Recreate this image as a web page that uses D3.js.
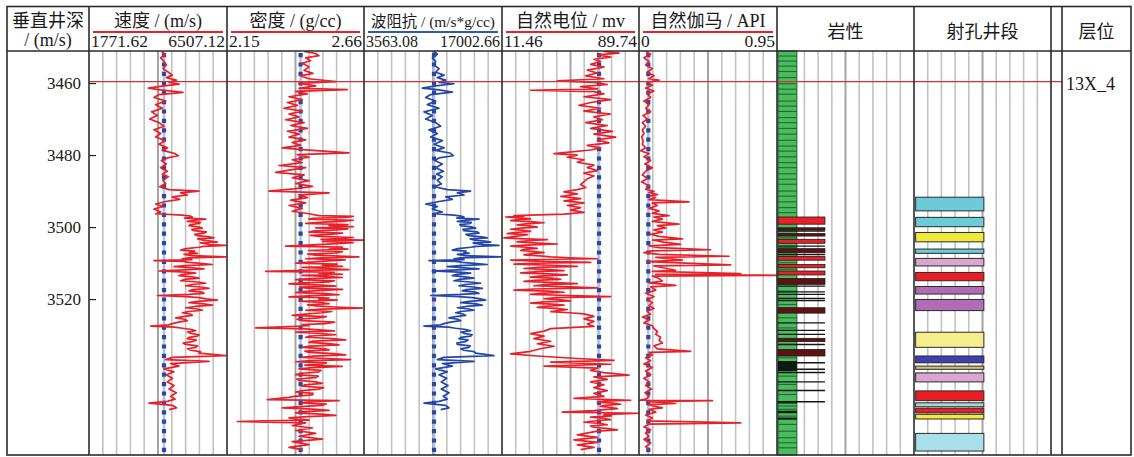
<!DOCTYPE html>
<html><head><meta charset="utf-8">
<script src="https://cdn.jsdelivr.net/npm/d3@7/dist/d3.min.js"></script>
<style>body{margin:0;background:#fff}svg{display:block}</style>
</head><body><svg id="c" width="1134" height="457"></svg>
<script>
// ---------------- data ----------------
const depthDomain = [3451.1, 3563.3];
const depthTicks = [3460, 3480, 3500, 3520];
const markerDepth = 3459.6;
const markerLabel = "13X_4";

const trackTitles = ["速度 / (m/s)", "密度 / (g/cc)", "波阻抗 / (m/s*g/cc)", "自然电位 / mv", "自然伽马 / API"];
const trackMin = [1771.62, 2.15, 3563.08, 11.46, 0];
const trackMax = [6507.12, 2.66, 17002.66, 89.74, 0.95];
const trackMinLabel = ["1771.62", "2.15", "3563.08", "11.46", "0"];
const trackMaxLabel = ["6507.12", "2.66", "17002.66", "89.74", "0.95"];
const baselineValue = [4345, 2.424, 10380, 66.9, 0.064];
const otherTitles = ["岩性", "射孔井段", "层位"];
const depthTitle = ["垂直井深", "/ (m/s)"];

const velocity = [[3451.2,4265],[3452,4380],[3453,4231],[3454,4346],[3455,4426],[3456,4311],[3457,4494],[3457.8,4632],[3458.5,4426],[3459.2,4769],[3459.8,4517],[3460.3,4860],[3460.8,4346],[3461.4,3808],[3461.9,4231],[3462.6,4998],[3463.2,4174],[3464,4002],[3465,4403],[3466,4060],[3467,4288],[3468,3922],[3469,4117],[3470,3854],[3471,4174],[3472,4346],[3473,4002],[3474,4231],[3475,4060],[3476,4380],[3477,4174],[3478,4460],[3478.7,4288],[3479.5,4689],[3480.2,4838],[3480.8,4460],[3481.5,4254],[3482.5,4426],[3483.5,4231],[3484.5,4460],[3485.3,4288],[3486,4494],[3487,4311],[3488,4403],[3488.8,4197],[3489.6,4517],[3490,5547],[3490.5,4918],[3491.1,5146],[3491.6,4632],[3492.3,4883],[3492.9,4403],[3493.6,4060],[3494.3,4311],[3495,4002],[3495.8,4231],[3496.3,4060],[3496.7,4975],[3496.95,5250],[3497.2,5318],[3497.5,5050],[3497.8,5776],[3498.1,5400],[3498.4,5146],[3498.7,5600],[3499,5547],[3499.3,5250],[3499.6,5204],[3499.95,5500],[3500.3,5661],[3500.65,5300],[3501,5375],[3501.35,5800],[3501.7,5718],[3502.05,5400],[3502.4,5489],[3502.7,5900],[3503,6061],[3503.3,5500],[3503.6,5661],[3503.9,5950],[3504.2,6176],[3504.4,5600],[3504.6,5776],[3504.85,5900],[3505.1,6462],[3505.35,5700],[3505.6,5547],[3506,5100],[3506.4,4918],[3506.7,5400],[3507,5204],[3507.3,5500],[3507.6,5032],[3507.95,5300],[3508.3,6462],[3508.55,5200],[3508.8,4975],[3509.05,5300],[3509.3,4002],[3509.55,5000],[3509.8,5204],[3510.1,5600],[3510.4,6004],[3510.7,5100],[3511,4689],[3511.3,5300],[3511.6,5718],[3511.9,5000],[3512.2,4174],[3512.5,5100],[3512.8,5432],[3513.15,5000],[3513.5,4860],[3513.85,5300],[3514.2,5547],[3514.55,5050],[3514.9,4918],[3515.25,5500],[3515.6,5776],[3515.95,5300],[3516.3,5089],[3516.65,5600],[3517,5890],[3517.35,5350],[3517.7,5204],[3518.05,5650],[3518.4,5718],[3518.7,5200],[3519,4117],[3519.3,5100],[3519.6,5547],[3519.95,5800],[3520.3,6176],[3520.65,5500],[3521,5204],[3521.35,5700],[3521.7,6004],[3522.05,5400],[3522.4,5089],[3522.75,5500],[3523.1,5661],[3523.45,5200],[3523.8,4975],[3524.15,5250],[3524.5,5318],[3524.85,5000],[3525.2,4746],[3525.6,5050],[3526,5146],[3526.4,4850],[3526.8,4632],[3527.15,4500],[3527.5,3888],[3527.8,4700],[3528.1,4975],[3528.45,5300],[3528.8,5432],[3529.15,5150],[3529.5,5261],[3529.9,5550],[3530.3,5489],[3530.65,5200],[3531,5146],[3531.4,5450],[3531.8,5318],[3532.2,5000],[3532.6,5089],[3533,5500],[3533.4,5432],[3533.8,5150],[3534.2,5261],[3534.6,5600],[3535,5547],[3535.7,6462],[3536.2,4632],[3536.8,4403],[3537.3,5890],[3537.9,4574],[3538.6,4860],[3539.4,4346],[3540.2,4689],[3541,4426],[3542,4632],[3543,4460],[3544,4689],[3545,4517],[3546,4769],[3547,4574],[3547.8,4723],[3548.4,4460],[3548.9,3831],[3549.5,4632],[3550.2,4769],[3550.7,4517]];

const density = [[3451.2,2.437],[3451.8,2.480],[3452.4,2.492],[3453,2.443],[3453.8,2.461],[3454.5,2.430],[3455.5,2.455],[3456.5,2.437],[3457.3,2.470],[3458,2.424],[3458.8,2.455],[3459.6,2.555],[3460.1,2.418],[3460.8,2.480],[3461.5,2.418],[3461.8,2.598],[3462.3,2.406],[3463,2.449],[3463.8,2.381],[3464.6,2.430],[3465.4,2.375],[3466.2,2.412],[3467,2.362],[3467.8,2.430],[3468.6,2.381],[3469.4,2.418],[3470.2,2.368],[3471,2.437],[3471.8,2.387],[3472.6,2.449],[3473.4,2.375],[3474.2,2.418],[3475,2.381],[3475.8,2.443],[3476.5,2.393],[3477.3,2.424],[3478,2.356],[3478.5,2.430],[3479.4,2.604],[3479.9,2.412],[3480.6,2.455],[3481.3,2.393],[3482.1,2.430],[3482.9,2.344],[3483.5,2.443],[3484.2,2.381],[3484.8,2.331],[3485.5,2.437],[3486.3,2.393],[3487.1,2.455],[3487.9,2.406],[3488.7,2.468],[3489.4,2.400],[3490,2.306],[3490.5,2.530],[3491.1,2.418],[3491.8,2.449],[3492.5,2.387],[3493.3,2.443],[3494,2.381],[3494.8,2.430],[3495.6,2.393],[3496.3,2.455],[3496.8,2.492],[3497.05,2.62],[3497.3,2.592],[3497.55,2.47],[3497.8,2.455],[3498.1,2.62],[3498.4,2.579],[3498.7,2.49],[3499,2.443],[3499.3,2.60],[3499.6,2.530],[3499.9,2.62],[3500.2,2.480],[3500.5,2.60],[3500.8,2.561],[3501.1,2.47],[3501.4,2.455],[3501.7,2.58],[3502,2.542],[3502.3,2.46],[3502.6,2.492],[3502.9,2.62],[3503.2,2.579],[3503.4,2.50],[3503.6,2.660],[3503.8,2.52],[3504,2.505],[3504.3,2.62],[3504.6,2.561],[3504.95,2.47],[3505.3,2.368],[3505.55,2.58],[3505.8,2.530],[3506.15,2.60],[3506.5,2.455],[3506.85,2.58],[3507.2,2.555],[3507.5,2.45],[3507.8,2.480],[3508.05,2.57],[3508.3,2.641],[3508.55,2.50],[3508.8,2.443],[3509.1,2.59],[3509.4,2.530],[3509.7,2.46],[3510,2.406],[3510.3,2.56],[3510.6,2.505],[3510.9,2.58],[3511.2,2.430],[3511.5,2.53],[3511.8,2.604],[3512.05,2.45],[3512.3,2.294],[3512.55,2.55],[3512.8,2.492],[3513.1,2.58],[3513.4,2.430],[3513.7,2.52],[3514,2.579],[3514.3,2.46],[3514.6,2.406],[3514.9,2.55],[3515.2,2.530],[3515.5,2.44],[3515.8,2.381],[3516.1,2.50],[3516.4,2.555],[3516.7,2.42],[3517,2.455],[3517.3,2.58],[3517.6,2.505],[3517.9,2.43],[3518.2,2.406],[3518.5,2.52],[3518.8,2.567],[3519.1,2.45],[3519.4,2.381],[3519.7,2.53],[3520,2.492],[3520.3,2.56],[3520.6,2.418],[3520.95,2.50],[3521.3,2.530],[3521.6,2.45],[3521.9,2.480],[3522.2,2.55],[3522.5,2.654],[3522.8,2.50],[3523.1,2.443],[3523.45,2.54],[3523.8,2.505],[3524.15,2.44],[3524.5,2.393],[3524.85,2.52],[3525.2,2.492],[3525.6,2.41],[3526,2.430],[3526.4,2.55],[3526.8,2.517],[3527.1,2.43],[3527.4,2.455],[3528,2.257],[3528.25,2.44],[3528.5,2.480],[3528.85,2.55],[3529.2,2.406],[3529.55,2.50],[3529.9,2.555],[3530.25,2.46],[3530.6,2.443],[3530.95,2.54],[3531.3,2.592],[3531.65,2.47],[3532,2.455],[3532.35,2.53],[3532.7,2.567],[3533.05,2.46],[3533.4,2.430],[3533.75,2.51],[3534.1,2.530],[3534.45,2.44],[3534.8,2.455],[3535.15,2.55],[3535.5,2.592],[3535.85,2.47],[3536.2,2.430],[3536.5,2.52],[3536.8,2.610],[3537.1,2.46],[3537.4,2.406],[3537.7,2.52],[3538,2.505],[3538.35,2.44],[3538.7,2.579],[3539.05,2.47],[3539.4,2.418],[3539.8,2.50],[3540.2,2.492],[3540.6,2.43],[3541,2.406],[3541.4,2.49],[3541.8,2.480],[3542.2,2.41],[3542.6,2.418],[3543,2.48],[3543.4,2.505],[3543.8,2.44],[3544.2,2.430],[3544.6,2.51],[3545,2.492],[3545.4,2.43],[3545.8,2.406],[3546.2,2.47],[3546.6,2.468],[3547,2.40],[3547.3,2.381],[3547.9,2.300],[3548.2,2.567],[3548.5,2.46],[3548.8,2.430],[3549.15,2.52],[3549.5,2.505],[3549.85,2.42],[3550.2,2.356],[3550.55,2.47],[3550.9,2.530],[3551.25,2.44],[3551.6,2.406],[3551.95,2.50],[3552.3,2.555],[3552.65,2.45],[3553,2.381],[3553.6,2.455],[3554,2.188],[3554.4,2.443],[3555.1,2.393],[3555.8,2.468],[3556.5,2.406],[3557.3,2.480],[3558.1,2.418],[3558.9,2.505],[3559.6,2.393],[3560.4,2.455],[3561.2,2.381],[3561.8,2.430]];

const impedance = [[3451.2,10380],[3452,10704],[3453,10218],[3454,10542],[3455,10380],[3456,10867],[3457,10542],[3457.8,11354],[3458.5,10704],[3459.2,11516],[3459.8,10867],[3460.2,12327],[3460.8,10542],[3461.4,9244],[3461.9,10867],[3462.5,12165],[3463.2,10055],[3464,9568],[3465,10542],[3466,9731],[3467,10867],[3468,9406],[3469,10218],[3470,9568],[3471,10542],[3472,11029],[3473,9893],[3474,10704],[3475,10055],[3476,11191],[3477,10380],[3478,11354],[3478.7,10542],[3479.5,12003],[3480.2,12262],[3480.8,10867],[3481.5,10445],[3482.5,11191],[3483.5,10542],[3484.5,11289],[3485.3,10640],[3486,11191],[3487,10704],[3488,11094],[3488.8,10445],[3489.6,11678],[3490,13950],[3490.5,12652],[3491.1,13301],[3491.6,11516],[3492.3,12165],[3492.9,10867],[3493.6,9568],[3494.3,10704],[3495,10218],[3495.8,11191],[3496.3,10380],[3496.7,12327],[3496.95,13000],[3497.2,13301],[3497.5,12600],[3497.8,14762],[3498.1,13500],[3498.4,12652],[3498.7,14000],[3499,13950],[3499.3,12900],[3499.6,12977],[3499.95,14000],[3500.3,14437],[3500.65,13200],[3501,13301],[3501.35,14600],[3501.7,14762],[3502.05,13500],[3502.4,13788],[3502.7,15000],[3503,15573],[3503.3,13900],[3503.6,14275],[3503.9,15300],[3504.2,15898],[3504.4,14200],[3504.6,14600],[3504.85,15200],[3505.1,16710],[3505.35,14500],[3505.6,13950],[3506,12700],[3506.4,12165],[3506.7,13500],[3507,13301],[3507.3,13800],[3507.6,12652],[3507.95,13400],[3508.3,16872],[3508.55,13000],[3508.8,12327],[3509.05,13300],[3509.3,9893],[3509.55,12500],[3509.8,13139],[3510.1,14300],[3510.4,15573],[3510.7,12900],[3511,11678],[3511.3,13300],[3511.6,14762],[3511.9,12600],[3512.2,10218],[3512.5,12800],[3512.8,13950],[3513.15,12600],[3513.5,12165],[3513.85,13400],[3514.2,14275],[3514.55,12800],[3514.9,12327],[3515.25,13900],[3515.6,14924],[3515.95,13400],[3516.3,12814],[3516.65,14200],[3517,15087],[3517.35,13500],[3517.7,13139],[3518.05,14400],[3518.4,14762],[3518.7,13000],[3519,10055],[3519.3,12800],[3519.6,14112],[3519.95,14900],[3520.3,15411],[3520.65,13800],[3521,12977],[3521.35,14500],[3521.7,15087],[3522.05,13500],[3522.4,12652],[3522.75,13800],[3523.1,14275],[3523.45,13000],[3523.8,12490],[3524.15,13200],[3524.5,13463],[3524.85,12500],[3525.2,11841],[3525.6,12700],[3526,12977],[3526.4,12000],[3526.8,11354],[3527.15,11000],[3527.5,9406],[3527.8,11800],[3528.1,12490],[3528.45,13500],[3528.8,13950],[3529.15,13000],[3529.5,13301],[3529.9,14100],[3530.3,13950],[3530.65,13000],[3531,12814],[3531.4,13700],[3531.8,13463],[3532.2,12600],[3532.6,12652],[3533,13900],[3533.4,13788],[3533.8,13000],[3534.2,13301],[3534.6,14300],[3535,14437],[3535.7,16223],[3536.2,11354],[3536.8,10704],[3537.3,14275],[3537.9,11191],[3538.6,12165],[3539.4,10542],[3540.2,11678],[3541,10867],[3542,11613],[3543,11094],[3544,11743],[3545,11094],[3546,11841],[3547,11289],[3547.8,11678],[3548.4,10867],[3548.9,9406],[3549.5,11516],[3550.2,11841],[3550.7,11029]];

const sp = [[3451.2,69.7],[3451.7,78.3],[3452.2,66.0],[3452.8,73.5],[3453.4,64.0],[3454,67.8],[3454.8,62.1],[3455.6,69.7],[3456.4,60.2],[3457.2,66.0],[3458,59.3],[3458.8,69.7],[3459.4,43.1],[3459.8,64.0],[3460.4,71.6],[3461,56.4],[3461.6,66.0],[3462,27.8],[3462.4,64.0],[3463,69.7],[3463.8,58.3],[3464.6,73.5],[3465.4,62.1],[3466.2,55.5],[3467,67.8],[3467.8,58.3],[3468.6,73.5],[3469.4,64.0],[3470.2,68.8],[3471,59.3],[3471.8,71.6],[3472.6,62.1],[3473.4,74.5],[3474.2,64.0],[3475,76.4],[3475.8,66.0],[3476.6,72.6],[3477.3,60.2],[3478,67.8],[3478.6,62.1],[3479.3,46.9],[3479.6,41.2],[3480,54.5],[3480.6,48.8],[3481.3,58.3],[3482,54.5],[3482.8,64.0],[3483.5,60.2],[3484.3,66.0],[3485,58.3],[3485.8,64.0],[3486.6,60.2],[3487.4,58.3],[3488.2,56.4],[3489,59.3],[3489.6,54.5],[3490.2,46.9],[3490.8,54.5],[3491.5,45.0],[3492.1,56.4],[3492.7,46.9],[3493.3,58.3],[3494,48.8],[3494.6,56.4],[3495.3,50.7],[3495.9,58.3],[3496.4,46.9],[3496.8,18.3],[3497,24],[3497.2,13.6],[3497.45,22],[3497.7,27.8],[3497.95,20],[3498.2,16.4],[3498.5,28],[3498.8,35.5],[3499.1,25],[3499.4,20.2],[3499.7,28],[3500,31.6],[3500.3,22],[3500.6,16.4],[3500.9,24],[3501.2,27.8],[3501.5,19],[3501.8,14.5],[3502.1,26],[3502.4,22.1],[3502.7,17],[3503,12.6],[3503.25,25],[3503.5,37.4],[3503.8,26],[3504.1,20.2],[3504.4,30],[3504.7,43.1],[3505,25],[3505.3,16.4],[3505.6,25],[3505.9,31.6],[3506.2,24],[3506.5,22.1],[3506.8,30],[3507.1,35.5],[3507.4,28],[3507.7,24.0],[3508,33],[3508.3,39.3],[3508.55,50],[3508.8,66.0],[3509,30],[3509.2,16.4],[3509.5,35],[3509.8,62.1],[3510.05,30],[3510.3,18.3],[3510.6,40],[3510.9,54.5],[3511.2,32],[3511.5,24.0],[3511.8,38],[3512.1,46.9],[3512.4,30],[3512.7,22.1],[3513,38],[3513.3,48.8],[3513.6,33],[3513.9,27.8],[3514.2,40],[3514.5,45.0],[3514.8,30],[3515.1,24.0],[3515.4,42],[3515.7,54.5],[3516,36],[3516.3,29.7],[3516.6,50],[3516.9,66.0],[3517.2,30],[3517.5,18.3],[3517.8,38],[3518.1,46.9],[3518.4,33],[3518.7,27.8],[3519,50],[3519.3,73.5],[3519.6,42],[3519.9,35.5],[3520.2,45],[3520.5,50.7],[3520.8,35],[3521.1,27.8],[3521.4,40],[3521.7,46.9],[3522,36],[3522.3,31.6],[3522.6,42],[3522.9,48.8],[3523.2,44],[3523.5,39.3],[3523.8,50],[3524.1,58.3],[3524.8,64.0],[3525.5,58.3],[3526.2,64.0],[3526.9,60.2],[3527.6,64.0],[3528.2,39.3],[3528.9,35.5],[3529.6,27.8],[3530.3,35.5],[3531,29.7],[3531.7,39.3],[3532.4,31.6],[3533.1,41.2],[3533.8,33.5],[3534.5,27.8],[3535.2,16.4],[3535.8,31.6],[3536.5,54.5],[3537,75.5],[3537.5,39.3],[3538.1,73.5],[3538.6,35.5],[3539.2,66.0],[3539.8,62.1],[3540.4,69.7],[3541.1,84.0],[3541.6,64.0],[3542.3,71.6],[3543,62.1],[3543.8,69.7],[3544.6,64.0],[3545.4,71.6],[3546.2,64.0],[3547,69.7],[3547.6,52.6],[3548.1,85.0],[3548.35,70],[3548.6,66.0],[3548.9,75],[3549.2,79.3],[3549.5,70],[3549.8,67.8],[3550.1,74],[3550.4,77.4],[3550.7,70],[3551,64.0],[3551.4,45.9],[3551.7,89.7],[3552.1,69.7],[3552.45,74],[3552.8,62.1],[3553.15,70],[3553.5,73.5],[3553.85,64],[3554.2,58.3],[3554.55,68],[3554.9,71.6],[3555.25,62],[3555.6,64.0],[3555.95,72],[3556.3,77.4],[3556.65,66],[3557,62.1],[3557.7,54.5],[3558.4,66.0],[3559.1,52.6],[3559.8,66.0],[3560.5,54.5],[3561.2,64.0],[3561.8,56.4]];

const gr = [[3451.2,0.046],[3452,0.080],[3453,0.034],[3454,0.069],[3455,0.046],[3456,0.092],[3457,0.057],[3458,0.103],[3458.8,0.069],[3459.2,0.138],[3459.8,0.057],[3460.6,0.092],[3461.4,0.046],[3462.2,0.103],[3463,0.057],[3464,0.080],[3465,0.034],[3466,0.069],[3467,0.046],[3468,0.080],[3469,0.028],[3470,0.057],[3471,0.023],[3472,0.046],[3473,0.023],[3474,0.034],[3475,0.018],[3476,0.028],[3477,0.023],[3478,0.046],[3478.8,0.011],[3479.6,0.069],[3480.5,0.034],[3481.5,0.080],[3482.5,0.041],[3483.5,0.092],[3484.5,0.046],[3485.5,0.023],[3486.5,0.057],[3487.5,0.018],[3488.5,0.069],[3489.5,0.046],[3490.1,0.103],[3490.4,0.069],[3491,0.126],[3491.3,0.080],[3491.8,0.115],[3492.4,0.069],[3493.0,0.344],[3493.3,0.092],[3494,0.126],[3494.8,0.069],[3495.5,0.138],[3496.2,0.092],[3496.8,0.207],[3497.2,0.103],[3497.8,0.161],[3498.4,0.092],[3499.2,0.275],[3499.6,0.126],[3500.2,0.184],[3500.8,0.103],[3501.4,0.161],[3502,0.080],[3502.6,0.138],[3503.3,0.298],[3503.6,0.092],[3504.2,0.172],[3504.8,0.287],[3505.2,0.069],[3505.7,0.138],[3506.3,0.493],[3506.6,0.092],[3507.1,0.034],[3507.6,0.138],[3508.1,0.620],[3508.4,0.115],[3509.2,0.298],[3509.6,0.057],[3510.5,0.631],[3510.8,0.103],[3512,0.252],[3512.3,0.092],[3512.9,0.700],[3513.1,0.115],[3513.4,0.965],[3513.6,0.092],[3514.3,0.138],[3515,0.161],[3515.5,0.069],[3516.2,0.252],[3516.6,0.080],[3517.5,0.115],[3518.4,0.046],[3519.3,0.103],[3520.2,0.057],[3521,0.092],[3521.8,0.069],[3522.6,0.103],[3523.4,0.057],[3524.2,0.080],[3525,0.023],[3525.8,0.069],[3526.6,0.034],[3527.4,0.092],[3528.2,0.103],[3529,0.126],[3529.8,0.115],[3530.6,0.149],[3531.4,0.138],[3532.2,0.161],[3533,0.103],[3533.8,0.126],[3534.5,0.356],[3534.8,0.069],[3535.5,0.092],[3536.3,0.046],[3537.1,0.080],[3538,0.034],[3539,0.092],[3540,0.046],[3541,0.080],[3542,0.034],[3543,0.069],[3544,0.046],[3545,0.087],[3546,0.041],[3547,0.069],[3547.8,0.046],[3548.1,0.000],[3548.2,0.505],[3548.5,0.069],[3549,0.252],[3549.3,0.057],[3550.2,0.161],[3550.6,0.069],[3551.4,0.115],[3552.2,0.046],[3553,0.092],[3553.8,0.057],[3554.4,0.700],[3554.7,0.069],[3555.5,0.034],[3556.3,0.080],[3557.2,0.046],[3558.1,0.069],[3559,0.034],[3560,0.080],[3561,0.046],[3561.8,0.069]];

// lithology: thin bed boundaries in the sand column and coloured beds [top, bottom, kind]
const lithoStripes = [3452.5,3453.9,3455.3,3456.8,3458.5,3460.2,3461.7,3463.1,3465.0,3466.4,3467.9,3469.6,3471.0,3472.6,3474.2,3475.9,3477.5,3478.9,3480.5,3482.1,3483.5,3485.2,3486.7,3488.1,3490.0,3491.4,3493.0,3494.6,3496.0,3498.8,3503.0,3505.7,3509.9,3511.7,3517.8,3521.5,3525.2,3528.0,3532.6,3536.3,3541.4,3543.7,3546.5,3549.7,3550.6,3552.5,3554.8,3556.7,3558.5,3559.9,3561.3];
const lithoBeds = [[3497.2,3499.2,"R"],[3500.2,3500.8,"D"],[3501.1,3501.1,"K"],[3501.8,3502.5,"D"],[3503.4,3504.5,"R"],[3505.3,3505.3,"K"],[3506.0,3507.1,"D"],[3507.6,3507.6,"K"],[3508.2,3509.2,"R"],[3510.4,3511.3,"R"],[3512.2,3513.3,"R"],[3514.3,3515.9,"D"],[3516.4,3516.4,"K"],[3518.0,3518.0,"K"],[3518.7,3518.7,"K"],[3519.8,3519.8,"K"],[3520.4,3520.4,"K"],[3522.4,3523.9,"D"],[3526.6,3527.2,"K"],[3528.7,3528.7,"K"],[3529.8,3529.8,"K"],[3530.9,3531.8,"D"],[3532.6,3532.6,"K"],[3534.0,3535.8,"D"],[3537.2,3540.0,"B"],[3537.7,3537.7,"K"],[3539.5,3539.5,"K"],[3540.4,3540.4,"K"],[3543.0,3543.0,"K"],[3545.4,3545.4,"K"],[3548.5,3548.5,"K"],[3548.3,3549.0,"B"],[3551.0,3551.7,"B"],[3552.9,3553.5,"B"]];

// perforated intervals [top, bottom, kind]
const perforations = [[3491.7,3495.5,"cyan"],[3497.3,3499.9,"cyan"],[3501.5,3504.1,"yellow"],[3506.1,3507.3,"cyan"],[3508.7,3510.8,"pink"],[3512.6,3514.9,"red"],[3516.5,3518.6,"purple"],[3520.1,3523.2,"purple"],[3529.2,3533.4,"lightyellow"],[3535.8,3537.7,"blue"],[3538.6,3539.5,"khaki"],[3540.5,3543.0,"pink"],[3545.5,3548.2,"red"],[3548.8,3549.9,"teal"],[3550.3,3551.6,"red"],[3552.0,3553.3,"yellow"],[3557.3,3562.2,"lightblue"]];

// ---------------- layout / style ----------------
const edges = [7, 89, 227, 364, 502, 639, 777, 914, 1051, 1062, 1131];
const TOP = 6.5, HEAD = 51, BOT = 455;
const perfColor = {cyan:"#6ccbd6", yellow:"#f2ea3a", pink:"#d8a6cf", red:"#ec1c24", purple:"#b06cb4", lightyellow:"#f4ef8c", blue:"#3f3fae", khaki:"#cdc27a", teal:"#a6d8d0", lightblue:"#a9dfe8"};
const curveColor = ["#e8202a", "#e8202a", "#2346a8", "#e8202a", "#e8202a"];
const underline = ["#e8202a", "#e8202a", "#2a5ab8", "#e8202a", "#e8202a"];
const serif = "'Liberation Serif','Noto Sans CJK SC',serif";

const svg = d3.select("#c");
const y = d3.scaleLinear().domain(depthDomain).range([HEAD, BOT]);

// grid lines for tracks (velocity .. perforation)
const gridG = svg.append("g");
for (let t = 1; t <= 7; t++) {
  const gx = d3.scaleLinear().domain([0, 10]).range([edges[t], edges[t + 1]]);
  d3.range(1, 10).forEach(k => {
    gridG.append("line").attr("x1", gx(k)).attr("x2", gx(k)).attr("y1", HEAD).attr("y2", BOT)
      .attr("stroke", k === 5 ? "#a3a3a3" : "#c2c2c2").attr("stroke-width", k === 5 ? 2 : 1.6);
  });
}

// clip paths
const defs = svg.append("defs");
const curves = [velocity, density, impedance, sp, gr];
const xScales = curves.map((c, i) => d3.scaleLinear().domain([trackMin[i], trackMax[i]]).range([edges[i + 1], edges[i + 2]]));
curves.forEach((c, i) => {
  defs.append("clipPath").attr("id", "clip" + i).append("rect")
    .attr("x", edges[i + 1]).attr("y", HEAD).attr("width", edges[i + 2] - edges[i + 1] + (i === 4 ? 6 : 0)).attr("height", BOT - HEAD);
});

// baseline dotted lines
curves.forEach((c, i) => {
  const bx = xScales[i](baselineValue[i]);
  svg.append("line").attr("x1", bx).attr("x2", bx).attr("y1", HEAD + 2).attr("y2", BOT)
    .attr("stroke", "#b8bfd8").attr("stroke-width", 2.5);
  svg.append("line").attr("x1", bx).attr("x2", bx).attr("y1", HEAD + 2).attr("y2", BOT)
    .attr("stroke", "#2848a4").attr("stroke-width", 4.2).attr("stroke-dasharray", "4.2,5.2");
});

// curves
curves.forEach((c, i) => {
  const line = d3.line().x(d => xScales[i](d[1])).y(d => y(d[0]));
  svg.append("path").datum(c).attr("d", line).attr("fill", "none")
    .attr("stroke", curveColor[i]).attr("stroke-width", 1.7).attr("stroke-linejoin", "round")
    .attr("clip-path", "url(#clip" + i + ")");
});

// lithology
const lx = d3.scaleLinear().domain([0, 10]).range([edges[6], edges[7]]);
const sandL = lx(0) + 1, sandR = lx(1.45), bedR = lx(3.5);
svg.append("rect").attr("x", sandL).attr("y", HEAD).attr("width", sandR - sandL).attr("height", BOT - HEAD)
  .attr("fill", "#4cba5e").attr("stroke", "#1f5e2c").attr("stroke-width", 1);
lithoStripes.forEach(d => {
  svg.append("line").attr("x1", sandL).attr("x2", sandR).attr("y1", y(d)).attr("y2", y(d))
    .attr("stroke", "#1f6a32").attr("stroke-width", 1.1);
});
lithoBeds.forEach(b => {
  const y0 = y(b[0]), y1 = y(b[1]);
  if (b[2] === "R" || b[2] === "D") {
    svg.append("rect").attr("x", sandL).attr("y", y0).attr("width", bedR - sandL).attr("height", Math.max(y1 - y0, 1.5))
      .attr("fill", b[2] === "R" ? "#e8202a" : "#5e1212").attr("stroke", "#1a1a1a").attr("stroke-width", 0.8);
  } else if (b[2] === "K") {
    svg.append("line").attr("x1", sandL).attr("x2", bedR).attr("y1", y0).attr("y2", y0)
      .attr("stroke", "#151515").attr("stroke-width", 1.4);
  } else {
    svg.append("rect").attr("x", sandL).attr("y", y0).attr("width", sandR - sandL).attr("height", y1 - y0)
      .attr("fill", "#0d1a10");
  }
});

// perforations
const px = d3.scaleLinear().domain([0, 1]).range([edges[7], edges[8]]);
perforations.forEach(p => {
  svg.append("rect").attr("x", px(0.012)).attr("y", y(p[0])).attr("width", px(0.51) - px(0.012)).attr("height", y(p[1]) - y(p[0]))
    .attr("fill", perfColor[p[2]]).attr("stroke", "#2a2a2a").attr("stroke-width", 1);
});

// marker line and label
svg.append("line").attr("x1", edges[1]).attr("x2", edges[9]).attr("y1", y(markerDepth)).attr("y2", y(markerDepth))
  .attr("stroke", "#d0343a").attr("stroke-width", 1.2);
svg.append("text").attr("x", edges[9] + 4).attr("y", y(markerDepth) + 8.5).text(markerLabel)
  .attr("font-family", serif).attr("font-size", 18).attr("fill", "#1a1a1a");

// depth axis
const ax = svg.append("g").attr("transform", `translate(${edges[1]},0)`)
  .call(d3.axisLeft(y).tickValues(depthTicks).tickSize(-7).tickPadding(8).tickFormat(d3.format("d")));
ax.select(".domain").remove();
ax.selectAll(".tick line").attr("stroke", "#222").attr("stroke-width", 1.2);
ax.selectAll(".tick text").attr("font-family", serif).attr("font-size", 17).attr("fill", "#1a1a1a");

// frame
const frame = svg.append("g").attr("stroke", "#2b2b2b").attr("stroke-width", 1.6);
frame.append("rect").attr("x", edges[0]).attr("y", TOP).attr("width", edges[10] - edges[0]).attr("height", BOT - TOP).attr("fill", "none");
frame.append("line").attr("x1", edges[0]).attr("x2", edges[10]).attr("y1", HEAD).attr("y2", HEAD);
edges.slice(1, 10).forEach(e => frame.append("line").attr("x1", e).attr("x2", e).attr("y1", TOP).attr("y2", BOT));

// header texts
const txt = (x, yy, s, size, anchor) => svg.append("text").attr("x", x).attr("y", yy).text(s)
  .attr("font-family", serif).attr("font-size", size).attr("fill", "#1a1a1a").attr("text-anchor", anchor || "middle");
txt((edges[0] + edges[1]) / 2, 27, depthTitle[0], 18);
txt((edges[0] + edges[1]) / 2, 46, depthTitle[1], 18);
trackTitles.forEach((t, i) => {
  const x0 = edges[i + 1], x1 = edges[i + 2];
  const tt = txt((x0 + x1) / 2, 27, t, i === 2 ? 15.5 : 18);
  if (i === 2) tt.attr("textLength", 124).attr("lengthAdjust", "spacingAndGlyphs");
  svg.append("line").attr("x1", x0 + 4).attr("x2", x1 - 4).attr("y1", 32).attr("y2", 32)
    .attr("stroke", underline[i]).attr("stroke-width", 2);
  txt(x0 + 2, 47, trackMinLabel[i], i === 2 ? 16 : 17.5, "start");
  txt(x1 - 2, 47, trackMaxLabel[i], i === 2 ? 16 : 17.5, "end");
});
txt((edges[6] + edges[7]) / 2, 38, otherTitles[0], 18);
txt((edges[7] + edges[8]) / 2, 38, otherTitles[1], 18);
txt((edges[9] + edges[10]) / 2, 38, otherTitles[2], 18);
</script></body></html>
